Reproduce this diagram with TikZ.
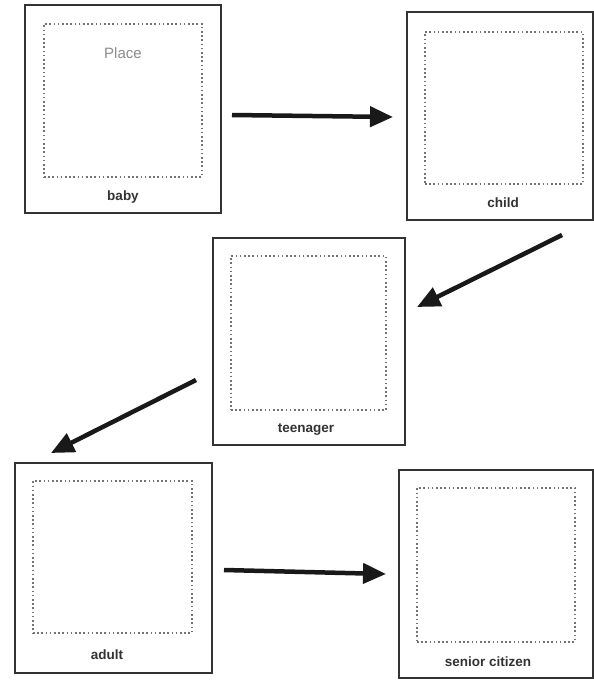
\documentclass[tikz,border=0pt]{standalone}
\usepackage{fontspec}
\setmainfont{Liberation Sans}
\usetikzlibrary{arrows.meta}
\begin{document}
\begin{tikzpicture}[x=1pt,y=-1pt,
  frame/.style={draw=black!80,line width=1.3pt},
  photo/.style={draw=black!55,line width=1.6pt,dash pattern=on 1.6pt off 2.6pt},
  lbl/.style={font=\fontsize{13.5}{15}\selectfont\bfseries,text=black!80,inner sep=0pt},
  arr/.style={line width=4.5pt,draw=black!90,-{Triangle[length=23pt,width=20pt]}}]
\useasboundingbox[fill=white] (0,0) rectangle (594,680);
% baby
\node[frame,minimum width=196pt,minimum height=208pt,inner sep=0pt] (f1) at (123,109) {};
\node[photo,minimum width=158pt,minimum height=153pt,inner sep=0pt] (p1) at (123,100.5) {};
\node[font=\fontsize{15}{17}\selectfont,text=black!45,inner sep=0pt] (place) at (123,53) {Place};
\node[lbl] (l1) at (123,197) {baby};
% child
\node[frame,minimum width=186pt,minimum height=208pt,inner sep=0pt] (f2) at (500,116) {};
\node[photo,minimum width=158pt,minimum height=152pt,inner sep=0pt] (p2) at (504,108) {};
\node[lbl] (l2) at (503,203) {child};
% teenager
\node[frame,minimum width=192pt,minimum height=207pt,inner sep=0pt] (f3) at (309,341.5) {};
\node[photo,minimum width=155pt,minimum height=154pt,inner sep=0pt] (p3) at (308.5,333) {};
\node[lbl] (l3) at (306,430) {teenager};
% adult
\node[frame,minimum width=197pt,minimum height=210pt,inner sep=0pt] (f4) at (113.5,568) {};
\node[photo,minimum width=159pt,minimum height=152pt,inner sep=0pt] (p4) at (112.5,557) {};
\node[lbl] (l4) at (107,655) {adult};
% senior citizen
\node[frame,minimum width=194pt,minimum height=208pt,inner sep=0pt] (f5) at (496,574) {};
\node[photo,minimum width=158pt,minimum height=154pt,inner sep=0pt] (p5) at (496,565) {};
\node[lbl] (l5) at (488,662) {senior citizen};
% arrows
\coordinate (a1s) at (232,115); \coordinate (a1e) at (393,117);
\coordinate (a2s) at (562,235); \coordinate (a2e) at (417,307);
\coordinate (a3s) at (196,380); \coordinate (a3e) at (51,453);
\coordinate (a4s) at (224,570); \coordinate (a4e) at (386,574);
\draw[arr] (a1s) -- (a1e);
\draw[arr] (a2s) -- (a2e);
\draw[arr] (a3s) -- (a3e);
\draw[arr] (a4s) -- (a4e);
\end{tikzpicture}
\end{document}
